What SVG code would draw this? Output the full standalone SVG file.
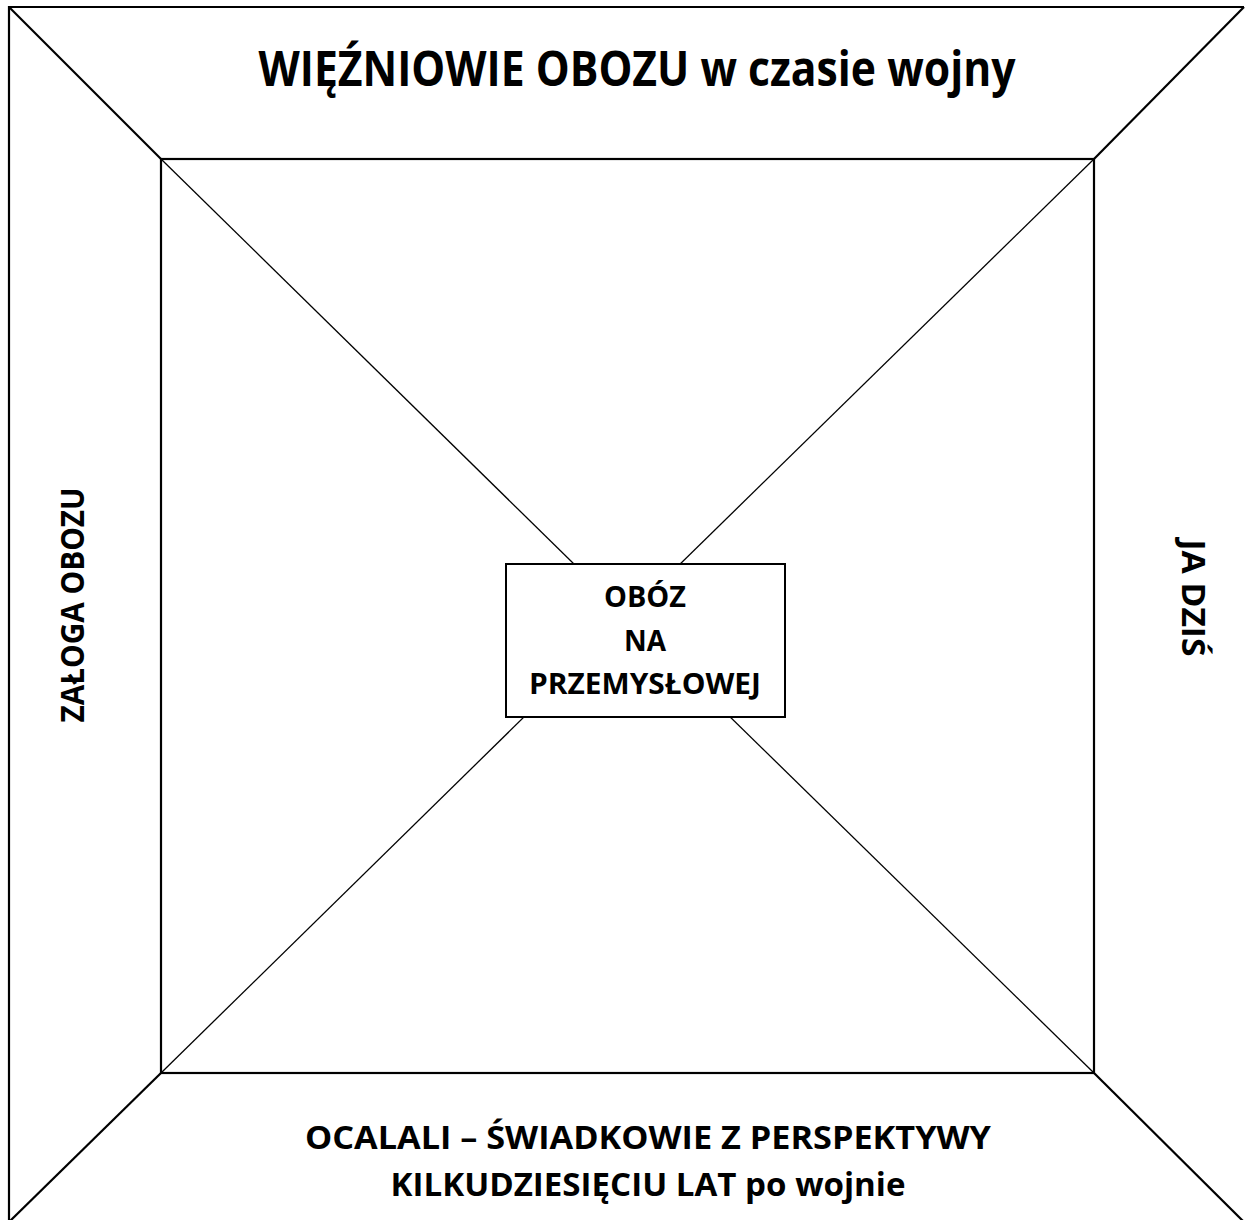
<svg xmlns="http://www.w3.org/2000/svg" width="1245" height="1220" viewBox="0 0 1245 1220">
  <style>
    .frame { fill: none; stroke: #000; stroke-width: 2.2; }
    .thin { fill: none; stroke: #000; stroke-width: 1.3; }
    .lbl { font-family: "Open Sans", Lato, "Liberation Sans", sans-serif; font-weight: bold; fill: #000; text-anchor: middle; }
  </style>
  <rect width="1245" height="1220" fill="#fff"/>
  <g id="connectors">
    <path class="frame" d="M9,1222 V7 H1244"/>
    <line class="frame" x1="9" y1="7" x2="161" y2="159"/>
    <line class="frame" x1="1244" y1="7" x2="1094" y2="159"/>
    <line class="frame" x1="9" y1="1222" x2="161" y2="1073"/>
    <line class="frame" x1="1243" y1="1221" x2="1094" y2="1073"/>
    <line class="thin" x1="161" y1="159" x2="627" y2="616"/>
    <line class="thin" x1="1094" y1="159" x2="627" y2="616"/>
    <line class="thin" x1="161" y1="1073" x2="627" y2="616"/>
    <line class="thin" x1="1094" y1="1073" x2="627" y2="616"/>
  </g>
  <g id="inner-square">
    <rect class="frame" x="161" y="159" width="933" height="914"/>
  </g>
  <g id="top">
    <text class="lbl" x="637" y="86" font-size="49" textLength="757" lengthAdjust="spacingAndGlyphs">WIĘŹNIOWIE OBOZU w czasie wojny</text>
  </g>
  <g id="left">
    <text class="lbl" transform="translate(84,605) rotate(-90)" font-size="33" textLength="235" lengthAdjust="spacingAndGlyphs">ZAŁOGA OBOZU</text>
  </g>
  <g id="right">
    <text class="lbl" transform="translate(1182,598) rotate(90)" font-size="33" textLength="117" lengthAdjust="spacingAndGlyphs">JA DZIŚ</text>
  </g>
  <g id="bottom">
    <text class="lbl" x="648" y="1149" font-size="33" textLength="686" lengthAdjust="spacingAndGlyphs">OCALALI – ŚWIADKOWIE Z PERSPEKTYWY</text>
    <text class="lbl" x="648" y="1196" font-size="33" textLength="515" lengthAdjust="spacingAndGlyphs">KILKUDZIESIĘCIU LAT po wojnie</text>
  </g>
  <g id="center">
    <rect x="506" y="564" width="279" height="153" fill="#fff" stroke="#000" stroke-width="2"/>
    <text class="lbl" x="645" y="607" font-size="29" textLength="82" lengthAdjust="spacingAndGlyphs">OBÓZ</text>
    <text class="lbl" x="645" y="651" font-size="29" textLength="42" lengthAdjust="spacingAndGlyphs">NA</text>
    <text class="lbl" x="645" y="694" font-size="29" textLength="232" lengthAdjust="spacingAndGlyphs">PRZEMYSŁOWEJ</text>
  </g>
</svg>
